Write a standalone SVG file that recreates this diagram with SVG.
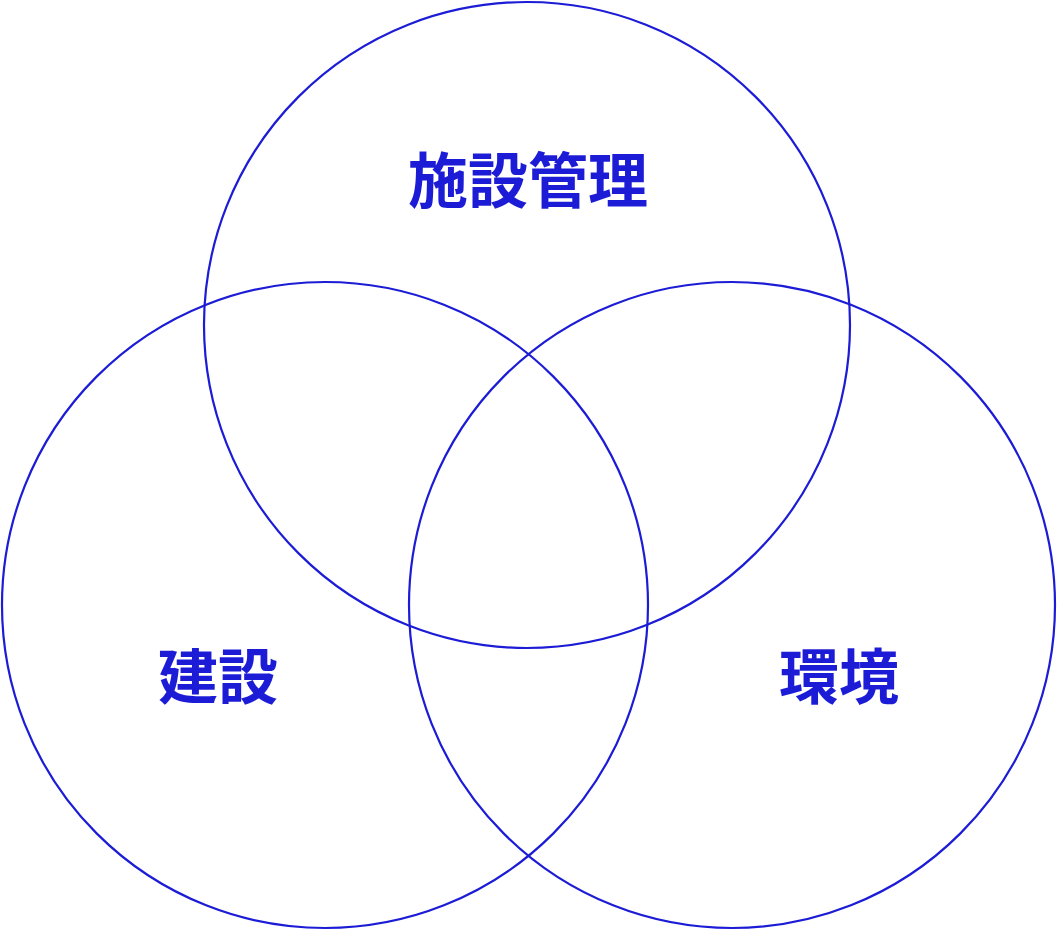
<svg xmlns="http://www.w3.org/2000/svg" width="1057" height="931" viewBox="0 0 1057 931">
<style>
circle{fill:none;stroke:#1c1cd6;stroke-width:2.2}
text{font-family:"Noto Sans CJK JP","Noto Sans CJK SC",sans-serif;font-weight:bold;font-size:60px;fill:#1c1cd6;text-anchor:middle}
</style>
<rect width="1057" height="931" fill="#fff"/>
<g id="facility"><circle cx="527" cy="325" r="323"/><text x="528" y="203">施設管理</text></g>
<g id="construction"><circle cx="325" cy="605" r="323"/><text x="218" y="699">建設</text></g>
<g id="environment"><circle cx="732" cy="605" r="323"/><text x="839" y="699">環境</text></g>
<g id="connectors"/>
</svg>
